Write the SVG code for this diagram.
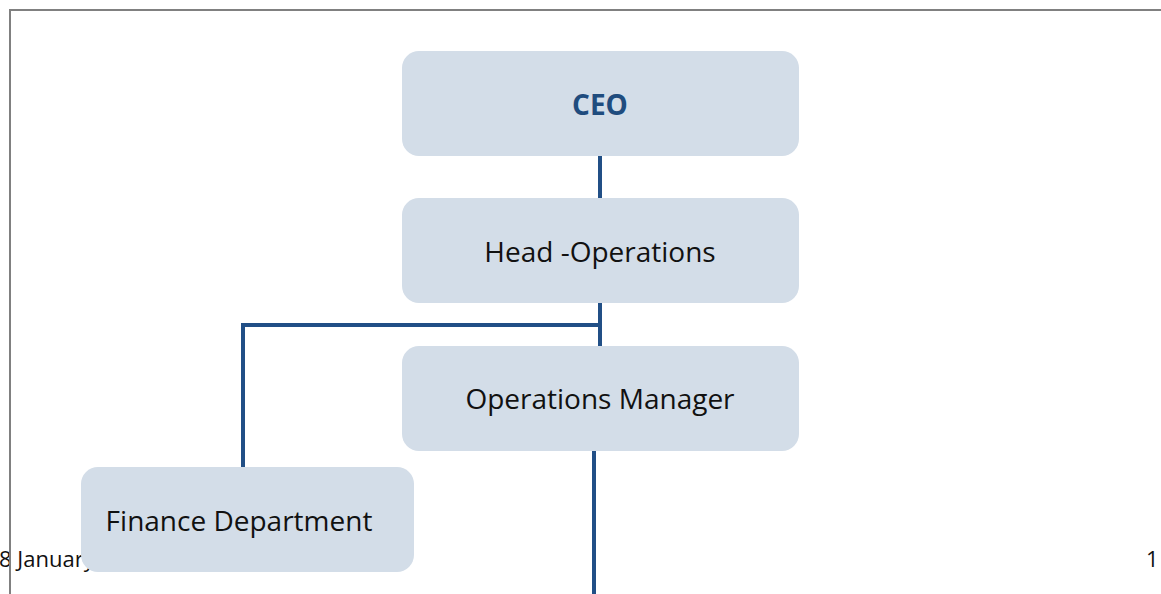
<svg xmlns="http://www.w3.org/2000/svg" width="1161" height="594" viewBox="0 0 1161 594">
<style>
.box{fill:#d3dde8;}
.lbl{font-family:"Open Sans",Lato,sans-serif;font-size:28px;fill:#111111;text-anchor:middle;}
.ceo{font-weight:bold;fill:#1f4c7e;}
.conn{stroke:#214f86;stroke-width:4;fill:none;}
.foot{font-family:"Open Sans",Lato,sans-serif;font-size:22px;fill:#111111;}
</style>
<rect width="1161" height="594" fill="#ffffff"/>
<text class="foot" x="-1" y="567">8 January</text>
<text class="foot" x="1146" y="567">1</text>
<path d="M10 594 V10 H1161" stroke="#808080" stroke-width="2" fill="none"/>
<g id="connectors">
<line class="conn" x1="600" y1="156" x2="600" y2="198"/>
<line class="conn" x1="600" y1="303" x2="600" y2="346"/>
<polyline class="conn" points="600,325 243,325 243,467"/>
<line class="conn" x1="594" y1="451" x2="594" y2="594"/>
</g>
<g id="ceo">
<rect class="box" x="402" y="51" width="397" height="105" rx="17"/>
<text class="lbl ceo" x="600" y="115">CEO</text>
</g>
<g id="head-operations">
<rect class="box" x="402" y="198" width="397" height="105" rx="17"/>
<text class="lbl" x="600" y="262">Head -Operations</text>
</g>
<g id="operations-manager">
<rect class="box" x="402" y="346" width="397" height="105" rx="17"/>
<text class="lbl" x="600" y="409">Operations Manager</text>
</g>
<g id="finance-department">
<rect class="box" x="81" y="467" width="333" height="105" rx="17"/>
<text class="lbl" x="239" y="531">Finance Department</text>
</g>
</svg>
